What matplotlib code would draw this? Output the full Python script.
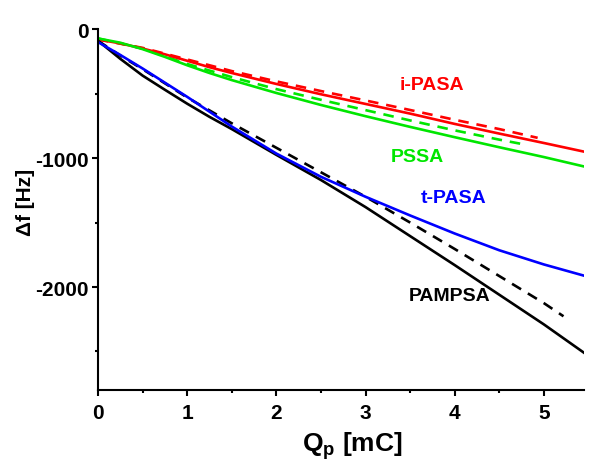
import numpy as np
import matplotlib.pyplot as plt
from matplotlib.ticker import MultipleLocator

plt.rcParams['font.family'] = ['Liberation Sans', 'DejaVu Sans']
plt.rcParams['font.weight'] = 'bold'
plt.rcParams['axes.unicode_minus'] = False
plt.rcParams['mathtext.fontset'] = 'custom'
plt.rcParams['mathtext.rm'] = 'Liberation Sans:bold'
plt.rcParams['mathtext.bf'] = 'Liberation Sans:bold'

# Charge passed Qp [mC] and frequency shift [Hz] for each polymer
q_ipasa = [0, 0.25, 0.5, 0.75, 1.0, 1.25, 1.5, 2.0, 2.5, 3.0, 3.5, 4.0, 4.5, 5.0, 5.45]
df_ipasa = [-80, -110, -150, -195, -245, -295, -340, -425, -505, -580, -655, -735,
            -810, -883, -950]
q_ipasa_d = [0, 0.5, 1.0, 1.5, 2.0, 2.5, 3.0, 3.5, 4.0, 4.5, 4.93]
df_ipasa_d = [-80, -145, -235, -325, -405, -480, -553, -627, -703, -775, -843]

q_pssa = [0, 0.25, 0.5, 0.75, 1.0, 1.25, 1.5, 2.0, 2.5, 3.0, 3.5, 4.0, 4.5, 5.0, 5.45]
df_pssa = [-72, -105, -155, -215, -280, -340, -395, -495, -588, -675, -758, -838,
           -916, -992, -1065]
q_pssa_d = [0, 0.5, 1.0, 1.5, 2.0, 2.5, 3.0, 3.5, 4.0, 4.5, 4.74]
df_pssa_d = [-72, -150, -270, -372, -465, -548, -628, -708, -785, -857, -889]

q_tpasa = [0, 0.25, 0.5, 0.75, 1.0, 1.25, 1.5, 2.0, 2.5, 3.0, 3.5, 4.0, 4.5, 5.0, 5.45]
df_tpasa = [-100, -200, -305, -415, -525, -640, -755, -965, -1145, -1300, -1445,
            -1585, -1715, -1825, -1912]

q_pampsa = [0, 0.25, 0.5, 0.75, 1.0, 1.25, 1.5, 2.0, 2.5, 3.0, 3.5, 4.0, 4.5, 5.0, 5.45]
df_pampsa = [-90, -230, -360, -470, -578, -680, -775, -975, -1170, -1380, -1605,
             -1830, -2060, -2290, -2510]
q_pampsa_d = [0, 0.25, 0.5, 0.75, 1.0, 1.25, 1.5, 2.0, 2.5, 3.0, 3.5, 4.0, 4.5, 5.0, 5.22]
df_pampsa_d = [-90, -205, -310, -420, -530, -630, -730, -920, -1110, -1300, -1500,
               -1705, -1915, -2125, -2227]

labels = ['i-PASA', 'PSSA', 't-PASA', 'PAMPSA']
label_pos = [(3.75, -426), (3.58, -984), (3.99, -1302), (3.94, -2062)]
colors = ['#ff0000', '#00e600', '#0000ff', '#000000']

fig = plt.figure(figsize=(5.92, 4.64), dpi=100)
ax = fig.add_axes([0.1655, 0.157, 0.821, 0.778])

dash = (0, (4, 3))
lw = 1.9
ax.plot(q_ipasa_d, df_ipasa_d, color=colors[0], lw=lw, linestyle=dash)
ax.plot(q_pssa_d, df_pssa_d, color=colors[1], lw=lw, linestyle=dash)
ax.plot(q_pampsa_d, df_pampsa_d, color=colors[3], lw=lw, linestyle=dash)
ax.plot(q_ipasa, df_ipasa, color=colors[0], lw=lw)
ax.plot(q_pssa, df_pssa, color=colors[1], lw=lw)
ax.plot(q_pampsa, df_pampsa, color=colors[3], lw=lw)
ax.plot(q_tpasa, df_tpasa, color=colors[2], lw=lw)

for name, (x, y), c in zip(labels, label_pos, colors):
    ax.text(x, y, name, color=c, fontsize=14, fontweight='bold',
            ha='center', va='center')

ax.set_xlim(0, 5.45)
ax.set_ylim(-2800, 0)
ax.xaxis.set_major_locator(MultipleLocator(1))
ax.xaxis.set_minor_locator(MultipleLocator(0.5))
ax.yaxis.set_major_locator(MultipleLocator(1000))
ax.yaxis.set_minor_locator(MultipleLocator(500))

for side in ['top', 'right']:
    ax.spines[side].set_visible(False)
for side in ['left', 'bottom']:
    ax.spines[side].set_linewidth(1.5)

ax.tick_params(which='major', direction='out', length=4, width=1.5,
               labelsize=15, pad=3)
ax.tick_params(axis='x', which='major', pad=5)
ax.tick_params(which='minor', direction='out', length=2.5, width=1.5)
for lab in ax.get_xticklabels() + ax.get_yticklabels():
    lab.set_fontweight('bold')

ax.set_xlabel(r'Q$_\mathbf{p}$ [mC]', fontsize=19, fontweight='bold')
ax.set_ylabel('Δf [Hz]', fontsize=15, fontweight='bold')
ax.xaxis.set_label_coords(0.523, -0.108)
ax.yaxis.set_label_coords(-0.13, 0.522)

fig.savefig('out.png', dpi=100)
